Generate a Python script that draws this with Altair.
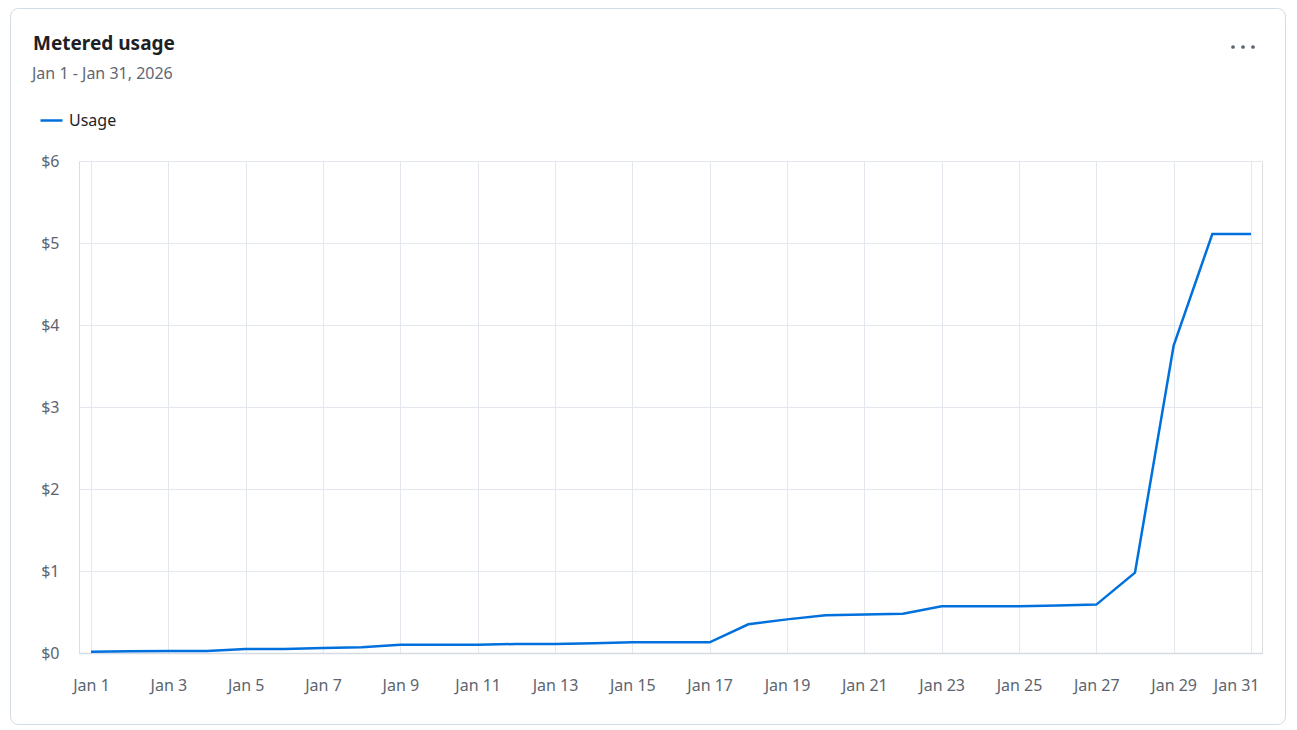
import altair as alt
import pandas as pd

# ---- data ----
dates = [f"2026-01-{d:02d}" for d in range(1, 32)]
usage = [0.015, 0.02, 0.025, 0.025, 0.05, 0.05, 0.06, 0.07, 0.10, 0.10,
         0.10, 0.11, 0.11, 0.12, 0.13, 0.13, 0.13, 0.35, 0.41, 0.46,
         0.47, 0.48, 0.57, 0.57, 0.57, 0.58, 0.59, 0.98, 3.75, 5.11, 5.11]
series_name = "Usage"
tick_days = [1, 3, 5, 7, 9, 11, 13, 15, 17, 19, 21, 23, 25, 27, 29, 31]
y_ticks = [0, 1, 2, 3, 4, 5, 6]
title_text = "Metered usage"
subtitle_text = "Jan 1 - Jan 31, 2026"

df = pd.DataFrame({"date": dates, "usage": usage, "series": series_name})

FONT = "Noto Sans"
BLUE = "#0070dd"
GRID = "#e3e8ee"
LABEL = "#5c6470"

x_domain = [
    alt.DateTime(year=2025, month=12, date=31, hours=16, minutes=33, utc=True),
    alt.DateTime(year=2026, month=1, date=31, hours=6, minutes=50, utc=True),
]

line = alt.Chart(df).mark_line(strokeWidth=2.5, interpolate="linear").encode(
    x=alt.X(
        "date:T",
        scale=alt.Scale(type="utc", domain=x_domain, nice=False),
        axis=alt.Axis(
            title=None,
            values=[alt.DateTime(year=2026, month=1, date=d, utc=True) for d in tick_days],
            labelExpr="utcFormat(datum.value, '%b %-d')",
            grid=True, gridColor=GRID, gridWidth=1,
            domain=True, domainColor="#d5dbe2", domainWidth=1.5,
            ticks=False, labelPadding=24,
            labelFont=FONT, labelFontSize=16, labelColor=LABEL,
            labelOverlap=False, labelFlush=11.5, labelFlushOffset=8,
        ),
    ),
    y=alt.Y(
        "usage:Q",
        scale=alt.Scale(domain=[0, 6], nice=False),
        axis=alt.Axis(
            title=None, values=y_ticks,
            labelExpr="'$' + datum.value",
            grid=True, gridColor=GRID, gridWidth=1,
            domain=False, ticks=False, labelPadding=20,
            labelFont=FONT, labelFontSize=16, labelColor=LABEL,
        ),
    ),
    color=alt.Color(
        "series:N",
        scale=alt.Scale(domain=[series_name], range=[BLUE]),
        legend=alt.Legend(
            title=None, orient="none", legendX=-40, legendY=-53,
            symbolType="stroke", symbolSize=484, symbolStrokeWidth=2.5,
            labelFont=FONT, labelFontSize=16, labelColor="#1f2328",
            labelOffset=5, padding=0,
        ),
    ),
)

one = pd.DataFrame({"k": [0]})

card = alt.Chart(one).mark_rect(
    fill="transparent", stroke="#d3dbe3", strokeWidth=1, cornerRadius=8
).encode(
    x=alt.value(-68.5), x2=alt.value(1206.5),
    y=alt.value(-152.5), y2=alt.value(563.5),
)

title = alt.Chart(one).mark_text(
    text=title_text, font=FONT, fontSize=19, fontWeight="bold",
    color="#1d2127", align="left", baseline="alphabetic",
).encode(x=alt.value(-46), y=alt.value(-111))

subtitle = alt.Chart(one).mark_text(
    text=subtitle_text, font=FONT, fontSize=16,
    color="#5f6772", align="left", baseline="alphabetic",
).encode(x=alt.value(-47), y=alt.value(-82.5))

dots = [
    alt.Chart(one).mark_circle(size=14, color="#5a6270", opacity=1).encode(
        x=alt.value(px), y=alt.value(-114)
    )
    for px in (1154, 1164, 1174)
]

chart = alt.layer(card, line, title, subtitle, *dots).properties(
    width=1183, height=492,
    padding={"left": 71, "top": 153, "right": 25, "bottom": 72},
    autosize=alt.AutoSizeParams(type="none"),
).configure_view(strokeWidth=0).configure(font=FONT)

chart.save("out.html", embed_options={"renderer": "svg", "actions": False})
